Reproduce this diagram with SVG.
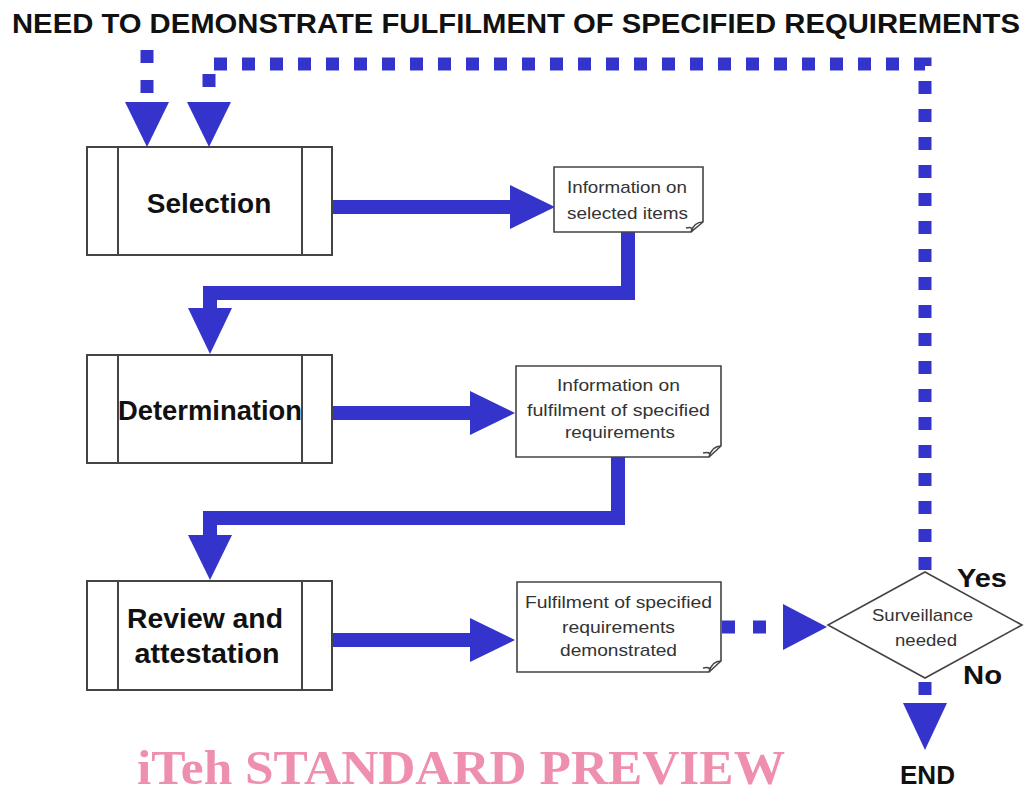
<svg xmlns="http://www.w3.org/2000/svg" width="1027" height="792" viewBox="0 0 1027 792">
<style>
.box{fill:#fff;stroke:#444;stroke-width:2}
.doc{fill:#fff;stroke:#444;stroke-width:1.6}
.t{font-family:"Liberation Sans",Arial,sans-serif;fill:#111}
.b{font-weight:bold}
.big{font-size:28px;font-weight:bold;text-anchor:middle}
.sm{font-size:17px;fill:#333}
.flow{fill:none;stroke:#3434cc;stroke-width:14;stroke-linejoin:miter}
.dot{fill:none;stroke:#3434cc;stroke-width:13;stroke-dasharray:13 15}
.head{fill:#3434cc}
.wm{font-family:"Liberation Serif","Times New Roman",serif;font-weight:bold;font-size:48px;fill:#ee8fae}
</style>
<rect width="1027" height="792" fill="#fff"/>
<text class="t b" x="12" y="33" font-size="27" textLength="1008" lengthAdjust="spacingAndGlyphs">NEED TO DEMONSTRATE FULFILMENT OF SPECIFIED REQUIREMENTS</text>
<g id="connectors">
<path class="dot" d="M147,50 V100" style="stroke-dasharray:13 17"/>
<polygon class="head" points="125,102 169,102 147,147"/>
<path class="dot" d="M925,570 V64 H209 V100"/>
<polygon class="head" points="187,102 231,102 209,147"/>
<path class="flow" d="M332,207 H512"/>
<polygon class="head" points="510,185 555,207 510,229"/>
<path class="flow" d="M628,232 V293 H210 V310"/>
<polygon class="head" points="188,308 232,308 210,354"/>
<path class="flow" d="M332,413 H472"/>
<polygon class="head" points="470,391 515,413 470,435"/>
<path class="flow" d="M618,457 V518 H210 V537"/>
<polygon class="head" points="188,535 232,535 210,580"/>
<path class="flow" d="M332,640 H472"/>
<polygon class="head" points="470,618 515,640 470,662"/>
<path class="dot" d="M722,627 H770" style="stroke-dasharray:13 18"/>
<polygon class="head" points="783,604 827,627 783,650"/>
<path class="dot" d="M925,682 V695" style="stroke-dasharray:none"/>
<polygon class="head" points="903,703 947,703 925,750"/>
</g>
<g id="selection">
<rect class="box" x="87" y="147" width="245" height="108"/>
<path class="box" d="M118,147 V255 M302,147 V255"/>
<text class="t big" x="209" y="213">Selection</text>
</g>
<g id="info-selected">
<path class="doc" d="M554,167 H703 V222 L691,232 H554 Z"/>
<path class="doc" d="M703,222 Q694,222 691,232 Q694,226 686,228"/>
<text class="t sm" x="567" y="193" textLength="120" lengthAdjust="spacingAndGlyphs">Information on</text>
<text class="t sm" x="567" y="219" textLength="121" lengthAdjust="spacingAndGlyphs">selected items</text>
</g>
<g id="determination">
<rect class="box" x="87" y="355" width="245" height="108"/>
<path class="box" d="M118,355 V463 M302,355 V463"/>
<text class="t big" x="210" y="420" textLength="184" lengthAdjust="spacingAndGlyphs">Determination</text>
</g>
<g id="info-fulfilment">
<path class="doc" d="M516,366 H721 V446 L709,457 H516 Z"/>
<path class="doc" d="M721,446 Q712,446 709,457 Q712,451 703,453"/>
<text class="t sm" x="557" y="391" textLength="123" lengthAdjust="spacingAndGlyphs">Information on</text>
<text class="t sm" x="527" y="416" textLength="183" lengthAdjust="spacingAndGlyphs">fulfilment of specified</text>
<text class="t sm" x="565" y="438" textLength="110" lengthAdjust="spacingAndGlyphs">requirements</text>
</g>
<g id="review">
<rect class="box" x="87" y="581" width="245" height="109"/>
<path class="box" d="M118,581 V690 M302,581 V690"/>
<text class="t big" x="205" y="628" textLength="156" lengthAdjust="spacingAndGlyphs">Review and</text>
<text class="t big" x="207" y="663" textLength="145" lengthAdjust="spacingAndGlyphs">attestation</text>
</g>
<g id="demonstrated">
<path class="doc" d="M517,582 H721 V661 L709,672 H517 Z"/>
<path class="doc" d="M721,661 Q712,661 709,672 Q712,666 703,668"/>
<text class="t sm" x="525" y="608" textLength="187" lengthAdjust="spacingAndGlyphs">Fulfilment of specified</text>
<text class="t sm" x="562" y="633" textLength="113" lengthAdjust="spacingAndGlyphs">requirements</text>
<text class="t sm" x="560" y="656" textLength="117" lengthAdjust="spacingAndGlyphs">demonstrated</text>
</g>
<g id="surveillance">
<polygon class="doc" points="925,572 1022,625 925,678 828,625"/>
<text class="t sm" x="872" y="621" textLength="101" lengthAdjust="spacingAndGlyphs">Surveillance</text>
<text class="t sm" x="895" y="646" textLength="62" lengthAdjust="spacingAndGlyphs">needed</text>
<text class="t b" x="957" y="587" font-size="25" textLength="50" lengthAdjust="spacingAndGlyphs">Yes</text>
<text class="t b" x="963" y="684" font-size="25" textLength="39" lengthAdjust="spacingAndGlyphs">No</text>
</g>
<g id="end">
<text class="t b" x="900" y="784" font-size="25" textLength="55" lengthAdjust="spacingAndGlyphs">END</text>
</g>
<text class="wm" x="137" y="784" textLength="648" lengthAdjust="spacingAndGlyphs">iTeh STANDARD PREVIEW</text>
</svg>
